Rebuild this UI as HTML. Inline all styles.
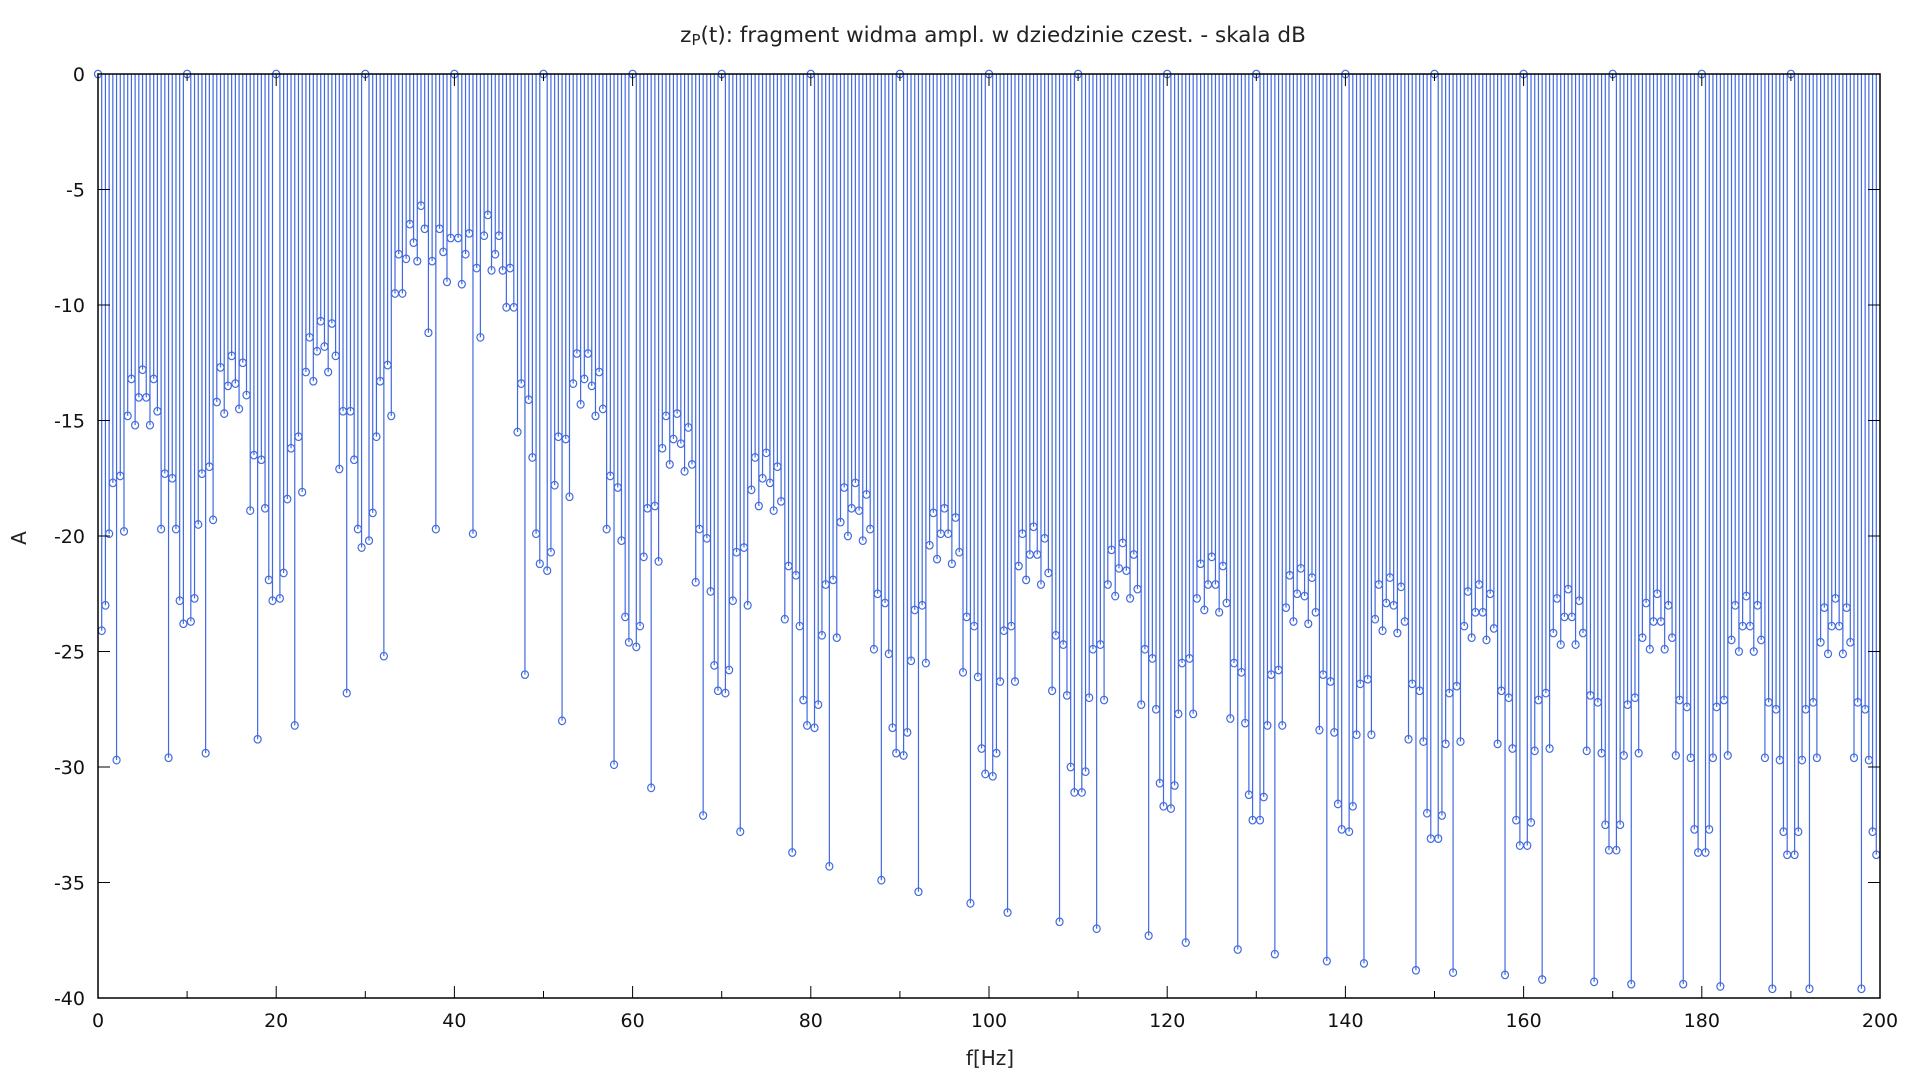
<!DOCTYPE html>
<html><head><meta charset="utf-8"><style>
html,body{margin:0;padding:0;background:#fff;}
svg{display:block;font-family:"DejaVu Sans","Liberation Sans",sans-serif;}
</style></head><body>
<svg id="chart" width="1920" height="1080" viewBox="0 0 1920 1080" xmlns="http://www.w3.org/2000/svg">
<rect width="1920" height="1080" fill="#fff"/>
<text x="993" y="42" text-anchor="middle" font-size="21.5" fill="#222">z<tspan font-size="15" dy="3">P</tspan><tspan dy="-3">(t): fragment widma ampl. w dziedzinie czest. - skala dB</tspan></text>
<g id="stems"></g>
<g id="axes"></g>
<text x="990" y="1065" text-anchor="middle" font-size="20" fill="#222">f[Hz]</text>
<text x="0" y="0" transform="translate(26,538) rotate(-90)" text-anchor="middle" font-size="20" fill="#222">A</text>
</svg>
<script>
const freqStep = 10/24;
const amplitudes = [
0,-24.1,-23.0,-19.9,-17.7,-29.7,-17.4,-19.8,-14.8,-13.2,-15.2,-14.0,-12.8,-14.0,-15.2,-13.2,-14.6,-19.7,-17.3,-29.6,-17.5,-19.7,-22.8,-23.8,
0,-23.7,-22.7,-19.5,-17.3,-29.4,-17.0,-19.3,-14.2,-12.7,-14.7,-13.5,-12.2,-13.4,-14.5,-12.5,-13.9,-18.9,-16.5,-28.8,-16.7,-18.8,-21.9,-22.8,
0,-22.7,-21.6,-18.4,-16.2,-28.2,-15.7,-18.1,-12.9,-11.4,-13.3,-12.0,-10.7,-11.8,-12.9,-10.8,-12.2,-17.1,-14.6,-26.8,-14.6,-16.7,-19.7,-20.5,
0,-20.2,-19.0,-15.7,-13.3,-25.2,-12.6,-14.8,-9.5,-7.8,-9.5,-8.0,-6.5,-7.3,-8.1,-5.7,-6.7,-11.2,-8.1,-19.7,-6.7,-7.7,-9.0,-7.1,
0,-7.1,-9.1,-7.8,-6.9,-19.9,-8.4,-11.4,-7.0,-6.1,-8.5,-7.8,-7.0,-8.5,-10.1,-8.4,-10.1,-15.5,-13.4,-26.0,-14.1,-16.6,-19.9,-21.2,
0,-21.5,-20.7,-17.8,-15.7,-28.0,-15.8,-18.3,-13.4,-12.1,-14.3,-13.2,-12.1,-13.5,-14.8,-12.9,-14.5,-19.7,-17.4,-29.9,-17.9,-20.2,-23.5,-24.6,
0,-24.8,-23.9,-20.9,-18.8,-30.9,-18.7,-21.1,-16.2,-14.8,-16.9,-15.8,-14.7,-16.0,-17.2,-15.3,-16.9,-22.0,-19.7,-32.1,-20.1,-22.4,-25.6,-26.7,
0,-26.8,-25.8,-22.8,-20.7,-32.8,-20.5,-23.0,-18.0,-16.6,-18.7,-17.5,-16.4,-17.7,-18.9,-17.0,-18.5,-23.6,-21.3,-33.7,-21.7,-23.9,-27.1,-28.2,
0,-28.3,-27.3,-24.3,-22.1,-34.3,-21.9,-24.4,-19.4,-17.9,-20.0,-18.8,-17.7,-18.9,-20.2,-18.2,-19.7,-24.9,-22.5,-34.9,-22.9,-25.1,-28.3,-29.4,
0,-29.5,-28.5,-25.4,-23.2,-35.4,-23.0,-25.5,-20.4,-19.0,-21.0,-19.9,-18.8,-19.9,-21.2,-19.2,-20.7,-25.9,-23.5,-35.9,-23.9,-26.1,-29.2,-30.3,
0,-30.4,-29.4,-26.3,-24.1,-36.3,-23.9,-26.3,-21.3,-19.9,-21.9,-20.8,-19.6,-20.8,-22.1,-20.1,-21.6,-26.7,-24.3,-36.7,-24.7,-26.9,-30.0,-31.1,
0,-31.1,-30.2,-27.0,-24.9,-37.0,-24.7,-27.1,-22.1,-20.6,-22.6,-21.4,-20.3,-21.5,-22.7,-20.8,-22.3,-27.3,-24.9,-37.3,-25.3,-27.5,-30.7,-31.7,
0,-31.8,-30.8,-27.7,-25.5,-37.6,-25.3,-27.7,-22.7,-21.2,-23.2,-22.1,-20.9,-22.1,-23.3,-21.3,-22.9,-27.9,-25.5,-37.9,-25.9,-28.1,-31.2,-32.3,
0,-32.3,-31.3,-28.2,-26.0,-38.1,-25.8,-28.2,-23.1,-21.7,-23.7,-22.5,-21.4,-22.6,-23.8,-21.8,-23.3,-28.4,-26.0,-38.4,-26.3,-28.5,-31.6,-32.7,
0,-32.8,-31.7,-28.6,-26.4,-38.5,-26.2,-28.6,-23.6,-22.1,-24.1,-22.9,-21.8,-23.0,-24.2,-22.2,-23.7,-28.8,-26.4,-38.8,-26.7,-28.9,-32.0,-33.1,
0,-33.1,-32.1,-29.0,-26.8,-38.9,-26.5,-28.9,-23.9,-22.4,-24.4,-23.3,-22.1,-23.3,-24.5,-22.5,-24.0,-29.0,-26.7,-39.0,-27.0,-29.2,-32.3,-33.4,
0,-33.4,-32.4,-29.3,-27.1,-39.2,-26.8,-29.2,-24.2,-22.7,-24.7,-23.5,-22.3,-23.5,-24.7,-22.8,-24.2,-29.3,-26.9,-39.3,-27.2,-29.4,-32.5,-33.6,
0,-33.6,-32.5,-29.5,-27.3,-39.4,-27.0,-29.4,-24.4,-22.9,-24.9,-23.7,-22.5,-23.7,-24.9,-23.0,-24.4,-29.5,-27.1,-39.4,-27.4,-29.6,-32.7,-33.7,
0,-33.7,-32.7,-29.6,-27.4,-39.5,-27.1,-29.5,-24.5,-23.0,-25.0,-23.9,-22.6,-23.9,-25.0,-23.0,-24.5,-29.6,-27.2,-39.6,-27.5,-29.7,-32.8,-33.8,
0,-33.8,-32.8,-29.7,-27.5,-39.6,-27.2,-29.6,-24.6,-23.1,-25.1,-23.9,-22.7,-23.9,-25.1,-23.1,-24.6,-29.6,-27.2,-39.6,-27.5,-29.7,-32.8,-33.8
];
const xTicks = [0,20,40,60,80,100,120,140,160,180,200];
const xMinorTicks = [10,30,50,70,90,110,130,150,170,190];
const yTicks = [0,-5,-10,-15,-20,-25,-30,-35,-40];

const NS = "http://www.w3.org/2000/svg";
const L = 98, R = 1880, T = 74, B = 998;
const xMin = 0, xMax = 200, yMin = -40, yMax = 0;
function xScale(v){ return L + (v - xMin) / (xMax - xMin) * (R - L); }
function yScale(v){ return T + (yMax - v) / (yMax - yMin) * (B - T); }
function mk(tag, attrs, parent){
  const e = document.createElementNS(NS, tag);
  for (const k in attrs) e.setAttribute(k, attrs[k]);
  parent.appendChild(e);
  return e;
}
const stems = document.getElementById('stems');
const axes = document.getElementById('axes');
const color = "#4169e1";

amplitudes.forEach((a, i) => {
  const f = i * freqStep;
  const x = xScale(f), y = yScale(a);
  const ln = mk('line', {x1:x, y1:yScale(0), x2:x, y2:y, stroke:color, 'stroke-width':1.2}, stems);
  
  
  const c = mk('ellipse', {cx:x, cy:y, rx:3.5, ry:3.8, fill:'none', stroke:color, 'stroke-width':1.2}, stems);
  
  
});

const frame = mk('rect', {x:L, y:T, width:R-L, height:B-T, fill:'none', stroke:'#000', 'stroke-width':1.5}, axes);



xTicks.forEach(v => {
  const x = xScale(v);
  mk('line', {x1:x, y1:B, x2:x, y2:B-12, stroke:'#000', 'stroke-width':1}, axes);
  mk('line', {x1:x, y1:T, x2:x, y2:T+12, stroke:'#000', 'stroke-width':1}, axes);
  const t = mk('text', {x:x, y:B+29, 'text-anchor':'middle', 'font-size':19, fill:'#111'}, axes);
  t.textContent = v;
  
  
});
xMinorTicks.forEach(v => {
  const x = xScale(v);
  mk('line', {x1:x, y1:B, x2:x, y2:B-7, stroke:'#000', 'stroke-width':1}, axes);
  mk('line', {x1:x, y1:T, x2:x, y2:T+7, stroke:'#000', 'stroke-width':1}, axes);
});
yTicks.forEach(v => {
  const y = yScale(v);
  mk('line', {x1:L, y1:y, x2:L+12, y2:y, stroke:'#000', 'stroke-width':1}, axes);
  mk('line', {x1:R, y1:y, x2:R-12, y2:y, stroke:'#000', 'stroke-width':1}, axes);
  const t = mk('text', {x:L-13, y:y+7, 'text-anchor':'end', 'font-size':19, fill:'#111'}, axes);
  t.textContent = v;
  
  
});
</script>
</body></html>
